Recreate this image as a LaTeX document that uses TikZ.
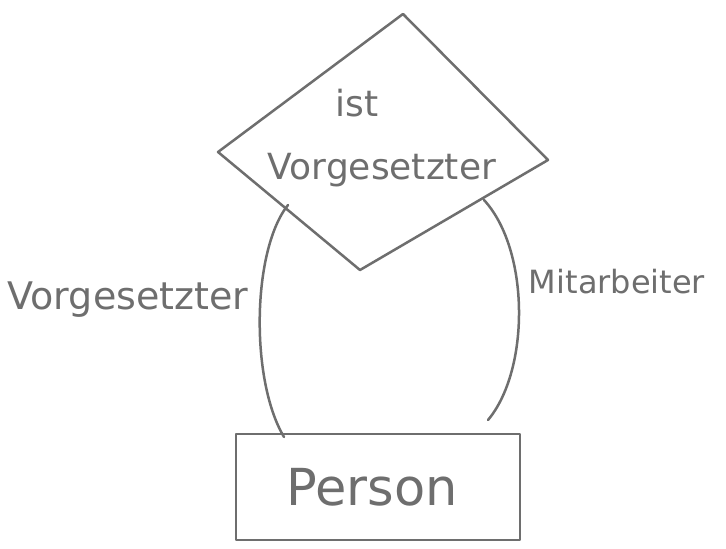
\documentclass[tikz,border=0pt]{standalone}
\usepackage{fontspec}
\setmainfont{DejaVu Sans}
\definecolor{pencil}{RGB}{110,110,110}
\begin{document}
\begin{tikzpicture}[x=1pt,y=-1pt,
  line/.style={draw=pencil,line width=2.5pt,line cap=round,line join=round},
  lbl/.style={text=pencil,inner sep=0pt}]
\useasboundingbox[fill=white] (0,0) rectangle (726,549);
% diamond corners
\coordinate (dt) at (403,14);
\coordinate (dl) at (218,152);
\coordinate (db) at (360,270);
\coordinate (dr) at (548,160);
\draw[line] (dt) -- (dl) -- (db) -- (dr) -- cycle;
\node[lbl,font=\fontsize{36}{38}\selectfont] (ist) at (357,103) {ist};
\node[lbl,font=\fontsize{36}{38}\selectfont] (vg) at (382,170) {Vorgesetzter};
% person rectangle
\coordinate (pa) at (236,434);
\coordinate (pb) at (520,540);
\draw[line] (pa) rectangle (pb);
\node[lbl,font=\fontsize{51}{53}\selectfont] (person) at (372,487) {Person};
% arcs
\coordinate (la) at (288,205);
\coordinate (lb) at (284,437);
\coordinate (ra) at (484,200);
\coordinate (rb) at (488,420);
\draw[line] (la) .. controls (252,250) and (250,380) .. (lb);
\draw[line] (ra) .. controls (530,250) and (530,370) .. (rb);
% role labels
\node[lbl,font=\fontsize{38}{40}\selectfont] (lv) at (128,300) {Vorgesetzter};
\node[lbl,font=\fontsize{32}{34}\selectfont] (lm) at (617,282) {Mitarbeiter};
\end{tikzpicture}
\end{document}
